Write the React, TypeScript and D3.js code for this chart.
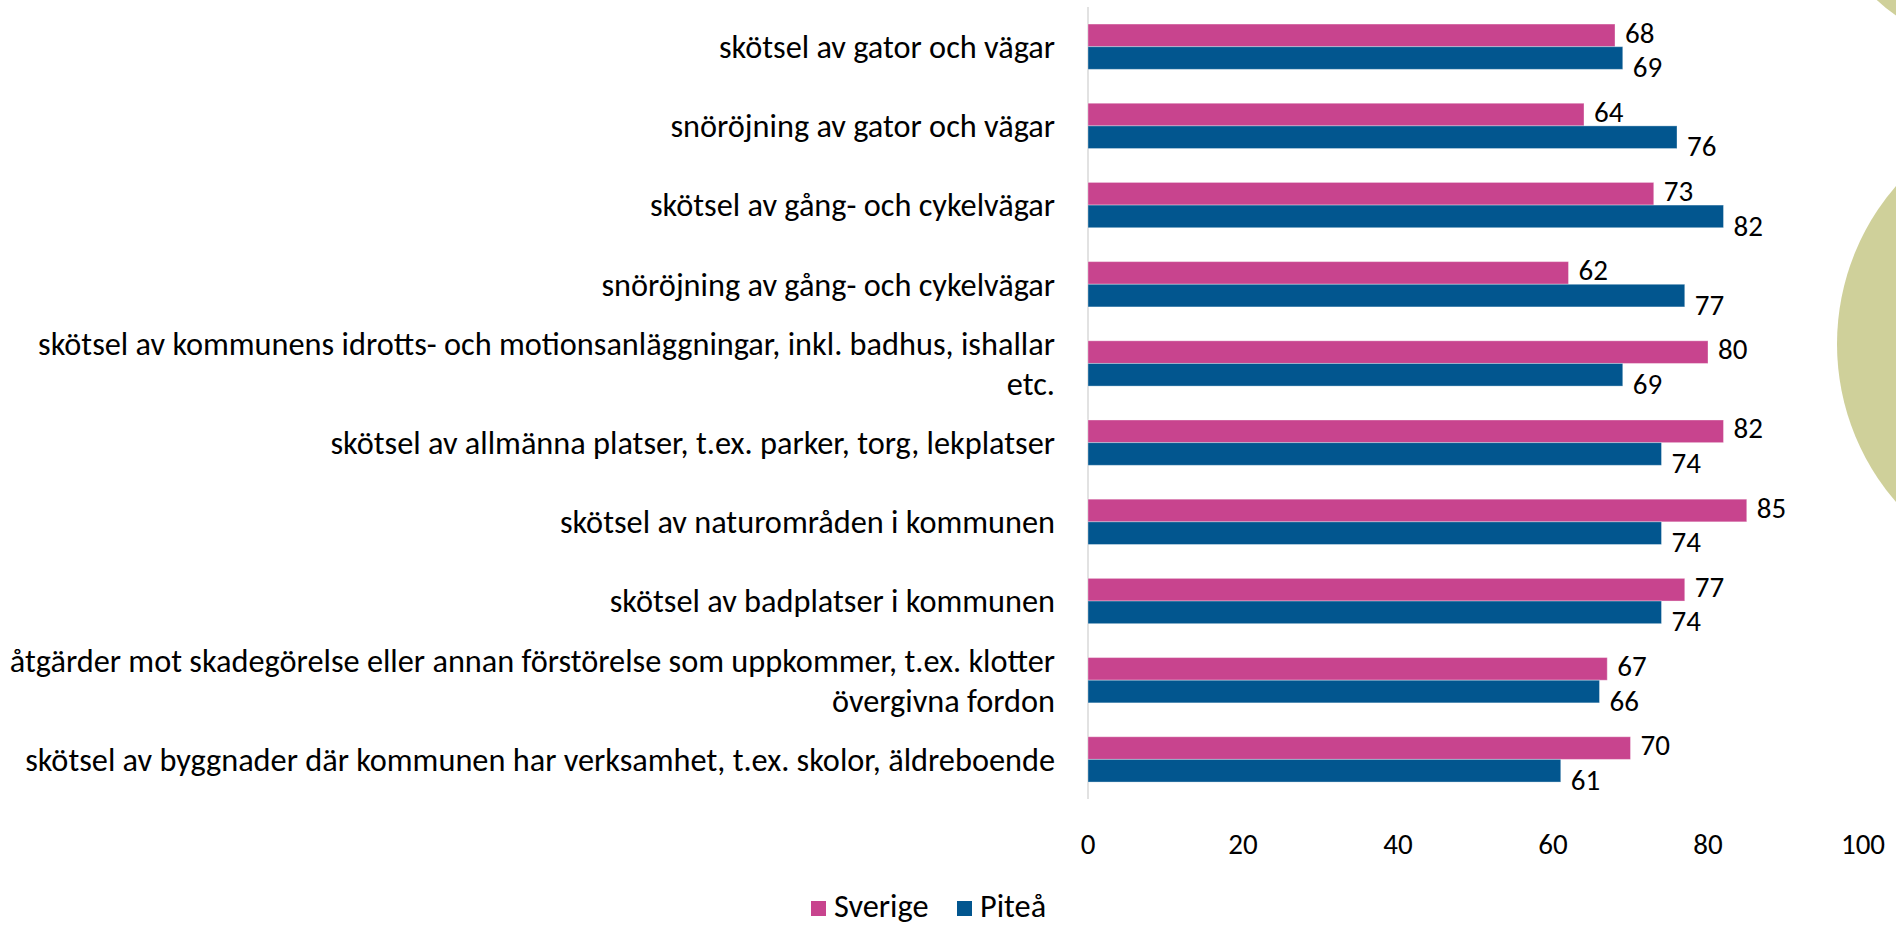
import React from "react";
import * as d3 from "d3";

const categories: string[][] = [
  ["skötsel av gator och vägar"],
  ["snöröjning av gator och vägar"],
  ["skötsel av gång- och cykelvägar"],
  ["snöröjning av gång- och cykelvägar"],
  ["skötsel av kommunens idrotts- och motionsanläggningar, inkl. badhus, ishallar", "etc."],
  ["skötsel av allmänna platser, t.ex. parker, torg, lekplatser"],
  ["skötsel av naturområden i kommunen"],
  ["skötsel av badplatser i kommunen"],
  ["åtgärder mot skadegörelse eller annan förstörelse som uppkommer, t.ex. klotter", "övergivna fordon"],
  ["skötsel av byggnader där kommunen har verksamhet, t.ex. skolor, äldreboende"],
];
const sverige = [68, 64, 73, 62, 80, 82, 85, 77, 67, 70];
const pitea = [69, 76, 82, 77, 69, 74, 74, 74, 66, 61];
const seriesNames = ["Sverige", "Piteå"];
const seriesColors = ["#c8448e", "#02568f"];
const xTicks = [0, 20, 40, 60, 80, 100];

const W = 1896;
const H = 926;
const FONT = "Carlito, Calibri, Lato, 'Open Sans', sans-serif";

export default function App() {
  const x = d3.scaleLinear().domain([0, 100]).range([1088, 1863]);
  const idx = categories.map((_, i) => String(i));
  const y = d3
    .scaleBand<string>()
    .domain(idx)
    .range([7.1, 799])
    .paddingInner(0.428)
    .paddingOuter(0.214);
  const ys = d3
    .scaleBand<string>()
    .domain(seriesNames)
    .range([0, y.bandwidth()]);
  const series = [sverige, pitea];
  const catFont = 32.3;
  const numFont = 29;
  const lineH = 40;
  const labelNudge = [-3, 9];

  return (
    <svg
      width={W}
      height={H}
      style={{ position: "absolute", left: 0, top: 0, background: "#fff" }}
      fontFamily={FONT}
    >
      <rect x={0} y={0} width={W} height={H} fill="#fff" />
      {/* decorative background shapes */}
      <circle cx={2078} cy={344} r={241} fill="#cfd09a" />
      <circle cx={1990} cy={-120} r={165} fill="#cfd09a" />

      {/* axis line */}
      <line x1={x(0)} x2={x(0)} y1={7} y2={799} stroke="#d9d9d9" strokeWidth={1.5} />

      {/* bars */}
      {series.map((vals, si) =>
        vals.map((v, i) => {
          const by = (y(String(i)) ?? 0) + (ys(seriesNames[si]) ?? 0);
          return (
            <g key={`b-${si}-${i}`}>
              <rect
                x={x(0)}
                y={by}
                width={x(v) - x(0)}
                height={ys.bandwidth()}
                fill={seriesColors[si]}
                stroke="#ffffff"
                strokeOpacity={0.35}
                strokeWidth={1}
              />
              <text
                x={x(v) + 10}
                y={by + ys.bandwidth() / 2 + labelNudge[si]}
                dy="0.35em"
                fontSize={numFont}
                fill="#000"
              >
                {v}
              </text>
            </g>
          );
        })
      )}

      {/* category labels */}
      {categories.map((lines, i) => {
        const cy = (y(String(i)) ?? 0) + y.bandwidth() / 2;
        const start = cy - ((lines.length - 1) * lineH) / 2;
        return (
          <text key={`c-${i}`} textAnchor="end" fontSize={catFont} fill="#000">
            {lines.map((ln, li) => (
              <tspan key={li} x={1055} y={start + li * lineH} dy="0.35em">
                {ln}
              </tspan>
            ))}
          </text>
        );
      })}

      {/* x tick labels */}
      {xTicks.map((t) => (
        <text
          key={`t-${t}`}
          x={x(t)}
          y={844}
          dy="0.35em"
          textAnchor="middle"
          fontSize={numFont}
          fill="#000"
        >
          {t}
        </text>
      ))}

      {/* legend */}
      <g>
        <rect x={811} y={901} width={15} height={15} fill={seriesColors[0]} />
        <text x={834} y={906} dy="0.35em" fontSize={catFont} fill="#000">
          {seriesNames[0]}
        </text>
        <rect x={957} y={901} width={15} height={15} fill={seriesColors[1]} />
        <text x={980} y={906} dy="0.35em" fontSize={catFont} fill="#000">
          {seriesNames[1]}
        </text>
      </g>
    </svg>
  );
}
